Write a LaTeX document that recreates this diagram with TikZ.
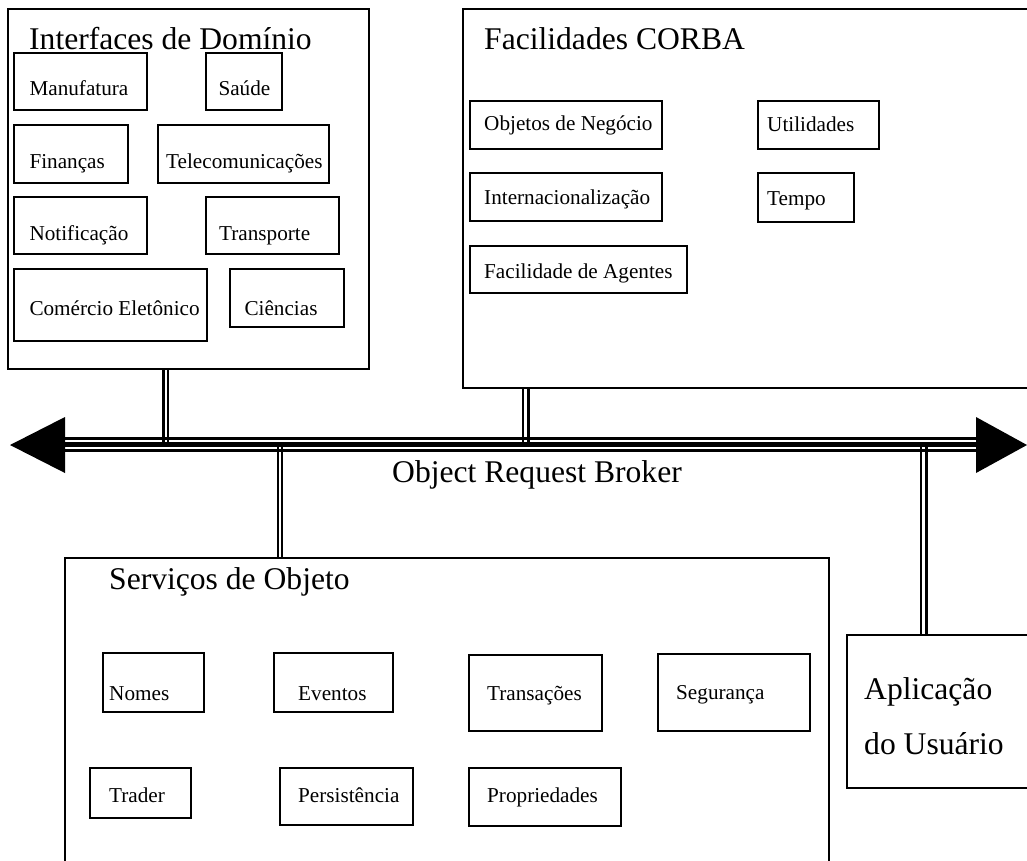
\documentclass[tikz,border=0pt]{standalone}
\usepackage{fontspec}
\setmainfont{Liberation Serif}
\usetikzlibrary{fit,backgrounds}

\tikzset{
  group/.style={draw, line width=2pt, inner sep=0pt},
  cell/.style={draw, line width=1.8pt, inner sep=0pt},
  small/.style={font=\fontsize{21.2}{25}\selectfont, inner sep=0pt, anchor=base west},
  big/.style={font=\fontsize{31.6}{38}\selectfont, inner sep=0pt, anchor=base west},
  link/.style={draw, line width=#1, double=white},
  head/.style={fill=black},
}

% \ibox{name}{x1}{y1}{x2}{y2}{text x}{text baseline}{text}
\newcommand\ibox[8]{%
  \node[cell, fit={(#2,#3) (#4,#5)}] (#1) {};
  \node[small] (#1-t) at (#6,#7) {#8};
}

\begin{document}
\begin{tikzpicture}[x=1pt, y=-1pt]
\useasboundingbox (0,0) rectangle (1027,860);
\clip (0,0) rectangle (1027,860);

% ---- Interfaces de Dominio ----
\node[group, fit={(8,9) (369,369)}] (dom) {};
\node[big] (dom-t) at (29,49) {Interfaces de Domínio};
\ibox{manuf}{14}{53}{147}{110}{29.3}{95}{Manufatura}
\ibox{saude}{206}{53}{282}{110}{218.3}{95}{Saúde}
\ibox{finan}{14}{125}{128}{183}{29.3}{168}{Finanças}
\ibox{telec}{158}{125}{329}{183}{166}{168}{Telecomunicações}
\ibox{notif}{14}{197}{147}{254}{29.3}{240.5}{Notificação}
\ibox{transp}{206}{197}{339}{254}{219}{240.5}{Transporte}
\ibox{comerc}{14}{269}{207}{341}{29.3}{315}{Comércio Eletônico}
\ibox{cienc}{230}{269}{344}{327}{244.3}{315}{Ciências}

% ---- Facilidades CORBA ----
\node[group, fit={(463,9) (1040,388)}] (fac) {};
\node[big] (fac-t) at (484,49) {Facilidades CORBA};
\ibox{objneg}{470}{101}{662}{149}{484}{130}{Objetos de Negócio}
\ibox{util}{758}{101}{879}{149}{767}{131}{Utilidades}
\ibox{intern}{470}{173}{662}{221}{484}{204}{Internacionalização}
\ibox{tempo}{758}{173}{854}{222}{767}{205}{Tempo}
\ibox{agent}{470}{246}{687}{293}{484}{278}{Facilidade de Agentes}

% ---- Servicos de Objeto ----
\node[group, fit={(65,558) (829,870)}] (svc) {};
\node[big] (svc-t) at (109,589) {Serviços de Objeto};
\ibox{nomes}{103}{653}{204}{712}{109}{700}{Nomes}
\ibox{event}{274}{653}{393}{712}{298}{700}{Eventos}
\ibox{trans}{469}{655}{602}{731}{487}{700}{Transações}
\ibox{segur}{658}{654}{810}{731}{676}{699}{Segurança}
\ibox{trader}{90}{768}{191}{818}{109}{802}{Trader}
\ibox{persist}{280}{768}{413}{825}{298}{802}{Persistência}
\ibox{propr}{469}{768}{621}{826}{487}{802}{Propriedades}

% ---- Aplicacao do Usuario ----
\node[group, fit={(847,635) (1040,788)}] (app) {};
\node[big] (app-t1) at (864,699) {Aplicação};
\node[big] (app-t2) at (864,754) {do Usuário};

% ---- Object Request Broker bus ----
\coordinate (orbW) at (65,444.2);
\coordinate (orbE) at (976,444.2);
\coordinate (k1) at (165.8,444.2);
\coordinate (k2) at (525.9,444.2);
\coordinate (k3) at (280,444.2);
\coordinate (k4) at (923.8,444.2);
\node[big] (orb) at (392,482) {Object Request Broker};

\begin{pgfonlayer}{background}
  % taps from each block onto the bus
  \draw[link=2.2pt, double distance=2.4pt] (dom.south -| k1) -- (k1);
  \draw[link=2.3pt, double distance=3pt] (fac.south -| k2) -- (k2);
  \draw[link=2.7pt, double distance=1.3pt] (k3) -- (svc.north -| k3);
  \draw[link=2.3pt, double distance=3pt] (k4) -- (app.north -| k4);
  % the bus itself
  \draw[line width=2.3pt] ([yshift=5.7pt]orbW) -- ([yshift=5.7pt]orbE);
  \draw[line width=5pt] (orbW) -- (orbE);
  \draw[line width=2.6pt] ([yshift=-6.4pt]orbW) -- ([yshift=-6.4pt]orbE);
\end{pgfonlayer}

% arrow heads at both ends of the bus
\fill[head] (65,417) -- (10,445) -- (65,473) -- cycle;
\fill[head] (976,417) -- (1027,445) -- (976,473) -- cycle;

\end{tikzpicture}
\end{document}
